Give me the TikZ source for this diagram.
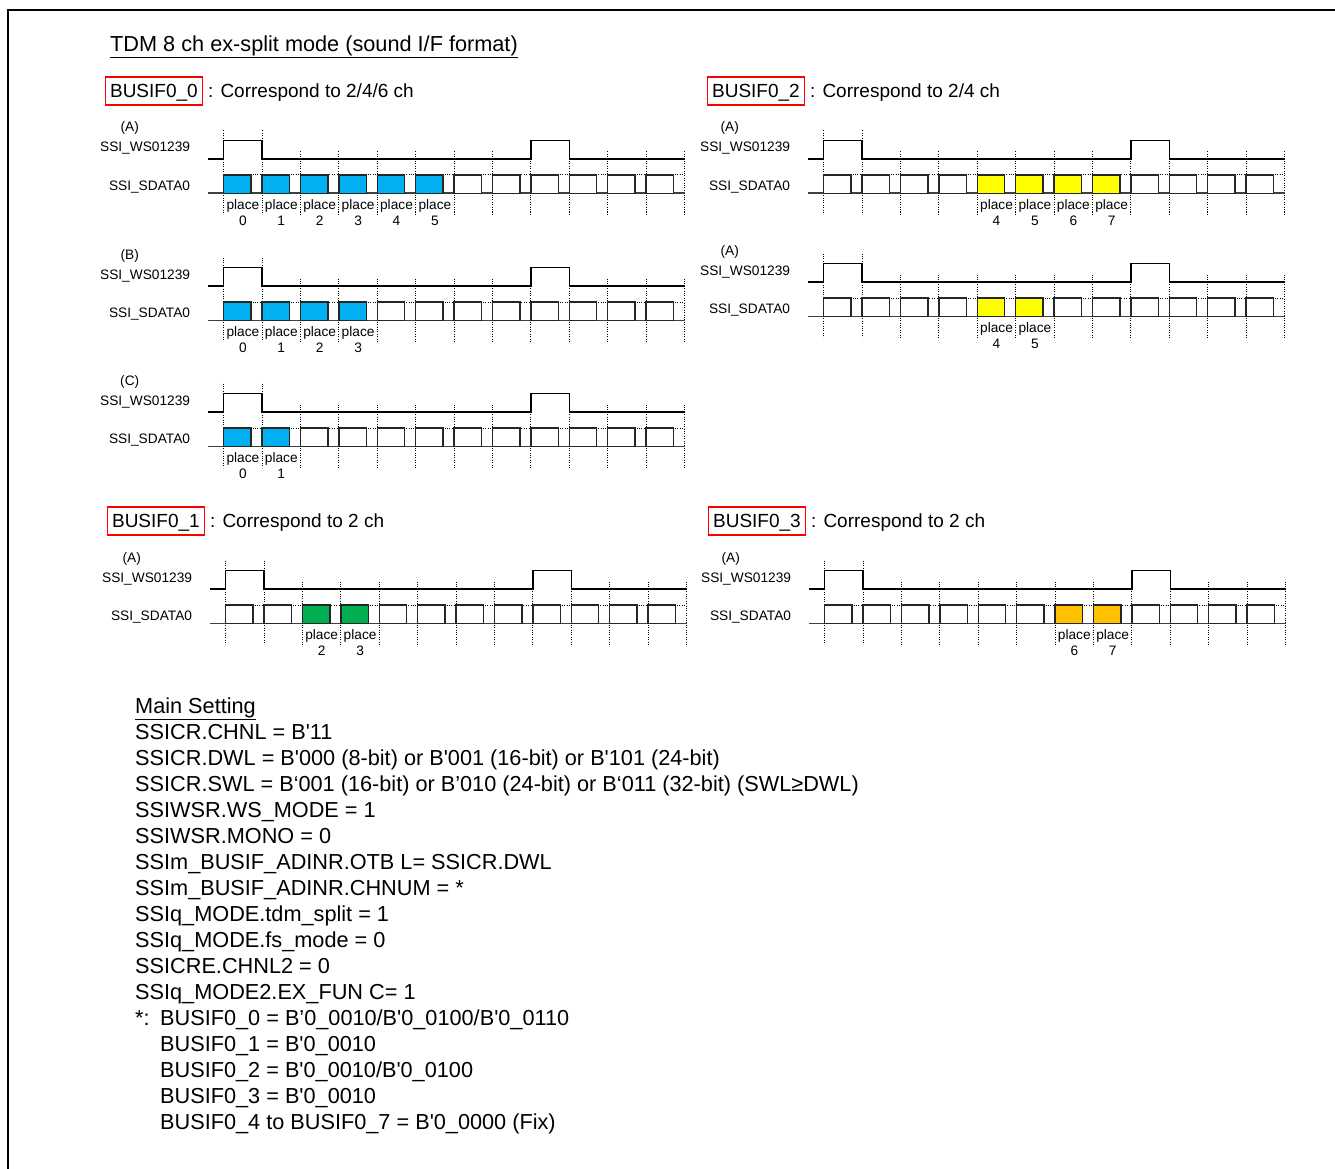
\documentclass[tikz,border=0pt]{standalone}
\usepackage{fontspec}
\setmainfont{Liberation Sans}
\definecolor{cblue}{HTML}{00B0F0}
\definecolor{cyellow}{HTML}{FFFF00}
\definecolor{cgreen}{HTML}{00B050}
\definecolor{corange}{HTML}{FFC000}
\newcommand\sq{\textquotesingle}
\tikzset{
  small/.style={inner sep=0pt,font=\fontsize{13.7}{16}\selectfont},
  hdrbox/.style={draw=red,line width=1.2pt,inner xsep=4.5pt,inner ysep=3pt,text height=17.8pt,text depth=4.2pt,font=\fontsize{19}{22}\selectfont},
  hdrtxt/.style={inner sep=0pt,font=\fontsize{19}{22}\selectfont},
  bigtxt/.style={inner sep=0pt,font=\fontsize{21.7}{26}\selectfont},
  dotv/.style={line width=1pt,dash pattern=on 1pt off 1.4pt},
  wave/.style={line width=1.3pt,black},
  baseln/.style={line width=1.6pt,black!75},
  slotbox/.style={line width=1.4pt,draw=black!85},
}
\newcommand\tpanel[6]{%
 \begin{scope}[shift={(#1,#2)}]
  \node[small,anchor=base] (lab#6) at (-94,-8.5) {(#3)};
  \node[small,anchor=base east] (ws#6) at (-33.5,11.5) {SSI\_WS01239};
  \node[small,anchor=base east] (sd#6) at (-33.5,49.5) {SSI\_SDATA0};
  \foreach \i in {0,...,12}{
    \pgfmathsetmacro\ytop{\i<2 ? -10 : 11}
    \draw[dotv] (\i*38.4,\ytop) -- (\i*38.4,74);
  }
  \draw[wave] (-15.5,18.5) -- (0,18.5) -- (0,0) -- (38.4,0) -- (38.4,18.5) -- (307.2,18.5) -- (307.2,0) -- (345.6,0) -- (345.6,18.5) -- (460.8,18.5);
  \draw[dotv] (0,34.5) -- (460.8,34.5);
  \draw[baseln] (-15.5,52.8) -- (460.8,52.8);
  \foreach \i in {0,...,11}{
    \draw[slotbox,fill=white] (\i*38.4,34.5) rectangle ++(27.3,18.3);
  }
  \foreach \i in {#4}{
    \draw[slotbox,fill=#5] (\i*38.4,34.5) rectangle ++(27.3,18.3);
    \node[small,anchor=base] (pa#6\i) at (\i*38.4+19.2,68.5) {place};
    \node[small,anchor=base] (pb#6\i) at (\i*38.4+19.2,84.5) {\i};
  }
 \end{scope}}
\begin{document}
\begin{tikzpicture}[x=1pt,y=-1pt]
\useasboundingbox (0,0) rectangle (1335,1169);
\fill[white] (0,0) rectangle (1335,1169);
\draw[line width=2pt] (8,1180) -- (8,10) -- (1345,10);

\node[bigtxt,anchor=base west] (title) at (110,51.5) {\underline{TDM 8 ch ex-split mode (sound I/F format)}};

% headers
\node[hdrbox,anchor=base west] (h0) at (105,97.8) {BUSIF0\_0};
\node[hdrtxt,anchor=base west] (c0) at (208,97.8) {: Correspond to 2/4/6 ch};
\node[hdrbox,anchor=base west] (h2) at (707,97.8) {BUSIF0\_2};
\node[hdrtxt,anchor=base west] (c2) at (810,97.8) {: Correspond to 2/4 ch};
\node[hdrbox,anchor=base west] (h1) at (107,527.8) {BUSIF0\_1};
\node[hdrtxt,anchor=base west] (c1) at (210,527.8) {: Correspond to 2 ch};
\node[hdrbox,anchor=base west] (h3) at (708,527.8) {BUSIF0\_3};
\node[hdrtxt,anchor=base west] (c3) at (811,527.8) {: Correspond to 2 ch};

% panels
\tpanel{223.7}{140.5}{A}{0,1,2,3,4,5}{cblue}{a}
\tpanel{223.7}{267.5}{B}{0,1,2,3}{cblue}{b}
\tpanel{223.7}{393.5}{C}{0,1}{cblue}{c}
\tpanel{225.7}{570.5}{A}{2,3}{cgreen}{d}
\tpanel{823.7}{140.5}{A}{4,5,6,7}{cyellow}{e}
\tpanel{823.7}{263.5}{A}{4,5}{cyellow}{f}
\tpanel{824.7}{570.5}{A}{6,7}{corange}{g}

% main setting (base anchor = baseline of last line)
\node[bigtxt,anchor=base west,align=left] (main) at (135,1129) {%
\underline{Main Setting}\\
SSICR.CHNL = B\sq11\\
SSICR.DWL = B\sq000 (8-bit) or B\sq001 (16-bit) or B\sq101 (24-bit)\\
SSICR.SWL = B‘001 (16-bit) or B’010 (24-bit) or B‘011 (32-bit) (SWL≥DWL)\\
SSIWSR.WS\_MODE = 1\\
SSIWSR.MONO = 0\\
SSIm\_BUSIF\_ADINR.OTB L= SSICR.DWL\\
SSIm\_BUSIF\_ADINR.CHNUM = *\\
SSIq\_MODE.tdm\_split = 1\\
SSIq\_MODE.fs\_mode = 0\\
SSICRE.CHNL2 = 0\\
SSIq\_MODE2.EX\_FUN C= 1\\
\makebox[25pt][l]{*:}BUSIF0\_0 = B’0\_0010/B\sq0\_0100/B\sq0\_0110\\
\hspace*{25pt}BUSIF0\_1 = B\sq0\_0010\\
\hspace*{25pt}BUSIF0\_2 = B\sq0\_0010/B\sq0\_0100\\
\hspace*{25pt}BUSIF0\_3 = B\sq0\_0010\\
\hspace*{25pt}BUSIF0\_4 to BUSIF0\_7 = B\sq0\_0000 (Fix)};
\end{tikzpicture}
\end{document}
